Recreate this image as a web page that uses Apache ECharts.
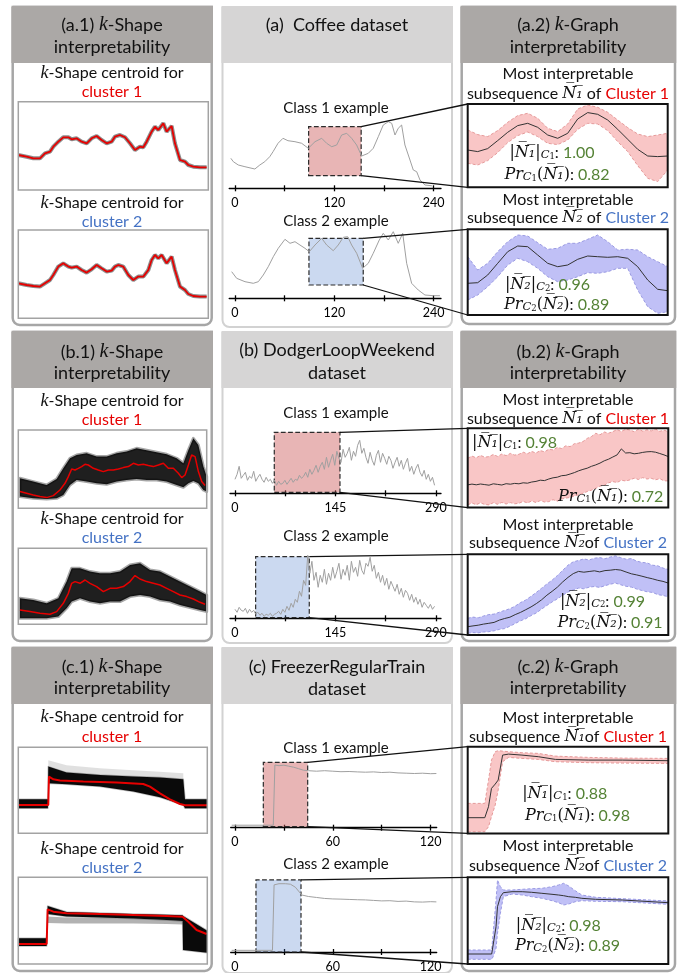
<!DOCTYPE html>
<html><head><meta charset="utf-8">
<script src="https://cdn.jsdelivr.net/npm/echarts@6/dist/echarts.min.js"></script>
<style>html,body{margin:0;padding:0;background:#fff}#c{width:680px;height:973px}</style>
</head><body><div id="c"></div>
<script>
// ---------------- DATA ----------------
// (a) Coffee dataset : class examples (x = time index, y = amplitude)
const coffeeX1 = [-5,-2,4,12,24,30,36,42,46,52,58,64,72.5,80.6,88.6,96.7,104.8,110.8,116.9,122.9,128.9,135,141,147,153.1,161.1,167.1,173.2,179.2,185.3,189.4,193.4,197.3,201.4,205.4,211.5,215.5,219.6,223.6,229.6,238];
const coffeeY1 = [30,26.6,23.3,21.6,19.3,23.3,26.6,31.6,36.6,45,50,47.6,46.6,45,40,46.6,50,45,41.6,43.3,53.3,55,50,43.3,32.3,35,40,51.6,63.3,66.6,65,53.3,60,63.3,43.3,28.3,18.3,16.6,8.3,3.3,2.5];
const coffeeX2 = [-4,2,12.1,22.1,28.2,34.2,40.2,46.3,52.3,60.4,66.5,72.5,78.5,84.6,89.8,96.7,104.8,110.8,118.8,124.8,130.9,136.2,141,147.1,154.3,161.1,167.1,174.4,179.2,185.3,191.3,197.3,202.7,207.5,213.5,221.5,229.6,239.6,247.7];
const coffeeY2 = [26.6,20,16.6,15,16.6,23.3,31.6,41.6,50,59,55,56.6,53.3,50,46.6,53.3,60,53.3,47.6,53.3,61,61.6,53.3,45,30,35,45,58.3,65,58.3,66.6,55,65,35,15,8.3,3.3,2.6,2.6];
const coffeeSub1 = {x:[89,152.5], y:[12.6,61.6]};
const coffeeSub2 = {x:[89.4,155], y:[13.3,60]};
// (a.1) k-Shape centroids
const coffeeCentX1 = [0,12.5,22.6,32.6,40.1,47.7,52.7,60.2,67.7,75.3,80.3,87.8,95.3,102.9,110.4,117.9,125.4,133,140.5,145.5,153,160.6,168.1,175.6,183.1,188.2,193.2,200.7,205.7,210.7,218.3,223.3,230.8,235.8,243.4,250.9,255.9,263.4,273.5,283.5];
const coffeeCentY1 = [35,33.3,31.7,31.7,36.7,38.3,43.3,48.3,52.7,52.7,50.7,51.7,48.3,46.7,51.7,54,50,46.7,48.3,53.3,55,52.7,46.7,40,43.3,42.7,48.3,58.3,63.3,60,66.7,58.3,64,46.7,30,28.3,25,23.3,22.7,22.7];
const coffeeCentX2 = [0,12.5,22.6,32.6,40.1,47.7,52.7,60.2,67.7,75.3,80.3,87.8,95.3,102.9,110.4,117.9,125.4,133,140.5,145.5,150.5,158,165.6,173.1,180.6,188.2,195.7,200.7,205.7,210.7,215.8,223.3,230.8,235.8,243.4,250.9,255.9,263.4,273.5,283.5];
const coffeeCentY2 = [35,33.3,32.3,31.7,35,38.3,43.3,51.7,55,51.7,50.7,51.7,48.3,45.7,49,53.3,50,46.7,47.7,51.7,53.3,51.7,43.3,38.3,41.7,41.7,48.3,58.3,63.3,60,63.3,55,61.7,48.3,31.7,28.3,24.3,22.3,21.7,21.7];
// (a.2) k-Graph subsequences
const coffeeNX = [0,3,6,9,12,15,18,21,24,27,30,33,36,39,42,45,48,51,54,57,60];
const coffeeN1Mid = [37.3,35.7,38.7,46.7,55,61.7,64,60,52.3,49,54,68.3,74.7,73,67.3,58,48,38,31.3,30.7,31.3];
const coffeeN1Hi  = [57.3,52.7,50.7,56.7,65,71.7,74,69,59,55.7,63.3,78.3,82.3,80,75,67.3,59.7,53.3,50.7,52.3,54];
const coffeeN1Lo  = [24,22.3,26.7,34.7,44.7,51.7,55.3,50.7,44,42.7,47.3,58,64,63.3,56.7,45.7,35.7,21.7,9,5.7,17.3];
const coffeeN2Mid = [31.7,32.3,40,51.7,63.3,69,68.3,60,51.7,48.3,50,55.7,59,58.3,57.7,58.3,56.7,48.3,35,25.7,24.3];
const coffeeN2Hi  = [58.3,45,51.7,63.3,73.3,80,79,72.3,65.7,66.7,71.7,71.7,75.7,80,73.3,65,65.7,65,58.3,53.3,48.3];
const coffeeN2Lo  = [15,20,28.3,38.3,50,56.7,53.3,46.7,38.3,33.3,35,38.3,42.3,41.7,43.3,46.7,46.7,25,8.3,1.7,3.3];

// (b) DodgerLoopWeekend : class examples sampled every 3 steps
const dodgerStep = 3;
const dodgerY1 = [14,19,27,15,18,21,13,17,15,22,12,16,19,14,11,16,12,14,10,13,8,12,9,10,13,9,12,15,11,14,13,18,15,17,21,16,24,19,23,28,21,27,31,24,36,26,33,39,28,42,35,31,44,36,40,46,33,42,37,48,53,40,45,36,30,41,33,28,38,43,31,40,35,29,37,33,25,31,36,27,33,24,30,35,22,27,19,25,29,21,17,23,14,19,12,16,8];
const dodgerY2 = [9,6,11,8,7,10,5,9,6,8,4,6,3,5,2,4,3,5,2,4,5,7,4,9,6,12,8,15,11,19,16,27,22,38,33,63,45,57,38,46,31,43,36,49,34,45,38,51,40,47,55,39,49,43,53,38,57,46,51,42,58,48,44,55,52,61,47,53,40,46,36,43,33,40,29,37,32,27,34,24,30,21,28,25,18,24,16,21,14,19,11,16,13,10,14,9,12];
const dodgerSub1 = {x:[56.7,151.5], y:[1,61]};
const dodgerSub2 = {x:[29.8,107.2], y:[0.6,61.6]};
// (b.1) centroids and member envelopes
const dodgerCentX1 = [2.5,12.7,22.9,33.1,43.3,53.5,63.7,71.4,76.5,81.6,86.7,91.8,96.8,101.9,107,114.7,122.3,130,137.6,145.3,152.9,160.6,168.2,175.9,183.5,191.2,198.8,206.4,214.1,221.7,229.4,237,244.7,249.8,254.9,260,265,270.2,275.3,280.4,285.5];
const dodgerCentY1 = [16.7,15,13.3,11.7,10.7,12.7,18.3,25,31.7,39.3,38.3,40,41.7,44,43.3,40,38.3,36.7,38.3,38.3,39.3,40.7,41.7,45,43.3,44,42.7,41.7,43.3,45,40,40,35,30.7,33.3,43.3,53.3,51.7,36.7,26.7,22.7];
const dodgerEnvX1 = [2.5,22.9,43.3,58.6,68.8,79,89.2,104.5,119.8,135.1,150.4,165.7,180.9,196.2,211.5,226.8,242.1,252.3,260,267.6,275.2,282.9,288];
const dodgerEnvHi1 = [30,26.7,23.3,29.3,40,50,53.3,55,51.7,51.7,55,56.7,60,58,56,54,50,45,58.3,70,63.3,41.7,31.7];
const dodgerEnvLo1 = [11.7,10,9.3,10,13.3,23.3,28.3,26.7,25,24,26.7,28.3,29.3,28.3,28.3,26.7,23.3,21,25,27.3,25,18.3,16.7];
const dodgerCentX2 = [2.5,17.8,33.1,48.4,58.6,68.8,76.5,81.6,86.7,94.3,102,109.6,119.8,130,140.2,150.4,160.6,170.8,178.4,186.1,196.2,206.4,216.6,226.8,237,247.2,257.4,267.6,277.8,285.4];
const dodgerCentY2 = [14.3,12.7,11,10,12.7,21,31,41,42.7,41,44.3,41,37.7,32.7,36,36,37.7,42.7,48.7,45.3,42.7,41,39.3,36,32.7,29.3,27.7,25.3,22,20];
const dodgerEnvX2 = [2.5,22.9,43.3,61.2,73.9,81.6,94.3,109.6,124.9,140.2,155.5,170.8,186.1,201.4,216.6,231.9,247.2,262.5,277.8,288];
const dodgerEnvHi2 = [26,24.3,21,26,42.7,56,56,52.7,51,51,52.7,59.3,61,54.3,52.7,47.7,42.7,37.7,32.7,29.3];
const dodgerEnvLo2 = [6,6,6,7.7,16,22.7,26,22.7,21,22.7,22.7,27.7,29.3,27.7,24.3,22.7,19.3,16.7,14.3,12.7];
// (b.2) k-Graph subsequences, sampled every 2 steps
const dodgerNStep = 2;
const dodgerN1Mid = [22.7,23.5,22.8,23.6,23.0,22.4,23.8,23.2,22.6,23.9,23.4,24.2,23.8,24.8,24.4,25.6,26.2,27.4,27.0,28.6,29.8,30.4,31.9,32.3,33.6,35.0,36.8,38.2,39.4,41.3,42.7,44.5,46.8,48.4,50.6,52.7,58.7,54.6,54.9,53.8,54.3,55.2,55.8,56.0,55.4,54.1,52.7,51.0];
const dodgerN1Hi  = [49.3,51.5,49.8,52.2,50.4,51.0,53.1,51.2,53.6,52.0,54.2,52.5,53.3,55.4,53.9,56.1,54.6,57.0,55.8,58.3,57.7,60.2,59.1,61.8,61.0,63.9,64.5,66.0,69.2,71.1,74.3,72.8,75.6,74.4,76.0,77.9,76.2,78.3,77.7,75.9,78.4,76.5,77.8,76.7,78.6,76.3,77.4,76.0];
const dodgerN1Lo  = [2.7,4.6,2.9,4.8,3.1,2.7,4.9,3.3,5.2,3.6,5.0,3.8,4.3,6.2,4.7,6.6,5.1,7.0,5.6,6.0,7.9,6.4,8.6,9.5,10.2,11.6,12.8,14.3,16.1,17.4,19.3,21.5,22.4,24.8,26.0,25.1,27.4,26.6,27.7,29.4,28.1,30.0,28.6,29.3,27.8,28.9,26.8,26.7];
const dodgerN2Mid = [8.3,9.1,9.8,10.9,11.7,12.6,14.9,16.5,17.8,20.4,22.6,25.3,28.1,31.4,35.2,39.8,43.7,47.9,53.1,57.6,61.4,63.6,62.8,63.5,64.2,63.1,64.4,64.8,65.5,64.9,63.0,61.2,60.1,58.8,57.4,56.2,54.7,53.6,51.9];
const dodgerN2Hi  = [16.7,17.9,17.2,19.0,20.4,20.9,22.8,24.6,26.3,28.9,32.4,35.0,38.7,42.6,46.8,51.0,54.9,59.5,64.7,69.8,73.2,74.5,76.1,75.0,76.8,77.4,76.2,78.0,79.1,77.3,75.8,76.4,73.9,72.6,72.1,69.8,69.2,66.9,65.6];
const dodgerN2Lo  = [1.7,2.4,2.1,3.0,3.3,4.2,5.6,6.4,8.8,11.5,14.2,16.3,19.4,22.1,25.9,29.6,33.1,36.2,39.8,43.0,45.1,46.9,46.2,47.8,48.5,47.6,49.3,50.8,51.9,50.2,48.7,47.9,46.0,44.5,43.2,42.6,40.4,39.5,38.3];

// (c) FreezerRegularTrain : class examples
const freezerX1 = [-2,23.5,24.5,27,30,33,36,39,42,45,50,55,60,65,70,75,80,85,90,95,100,105,110,115,120,123.5];
const freezerY1 = [2.5,2.5,62.7,62,62.5,61.5,60.5,59,57.5,57,56.5,57,56.5,56,56.2,55.8,55.5,55.8,55.2,55.5,54.8,54.5,54.2,54.5,54,54.2];
const freezerX2 = [-2,23,24,27,31,34,37,41,45,50,55,60,65,70,75,80,85,90,95,100,105,110,115,120,123.5];
const freezerY2 = [1.7,1.7,68.3,69.5,69.5,69,66,58,56.5,55.5,54.5,54,53.8,53.5,53.2,53,52.5,52,52.2,51.5,51.8,51,50.8,51.2,51];
const freezerSub1 = {x:[17.4,44.6], y:[1,65.4]};
const freezerSub2 = {x:[12.9,40.5], y:[0,73.3]};
// (c.1) centroids, member envelopes and faint outlier members
const freezerCentX1 = [0,47.6,48.7,55.6,66.1,103.2,156.1,198.4,209,224.9,240.7,256.6,264.6,300];
const freezerCentY1 = [28.3,28.3,56.7,54,52.7,51.7,50.7,49.3,46.7,40,34,29.3,28,28];
const freezerEnvX1 = [0,47,47.6,76.7,129.6,182.5,224.9,261.9,264.6,300];
const freezerEnvHi1 = [34,34,66.7,60.7,58.3,56.7,55.7,54,34,34];
const freezerEnvLo1 = [25,25,50,49,46.7,41.7,36,28.3,25,25];
const freezerFaintX1 = [47.6,76.7,129.6,182.5,224.9,261.9];
const freezerFaintHi1 = [73,68,65,63,61.5,60];
const freezerFaintLo1 = [66,60,58,56.5,55.5,54];
const freezerCentX2 = [0,45,46.6,55.6,76.7,129.6,182.5,235.4,260.8,269.8,283,298.9];
const freezerCentY2 = [20,20,54.7,52.3,50.7,50,49,48,47.3,42.3,34,30];
const freezerEnvX2 = [0,45,46.6,76.7,129.6,182.5,235.4,260.8,261.5,300];
const freezerEnvHi2 = [25.7,25.7,58,52,51,50,49.3,48.7,48,33.3];
const freezerEnvLo2 = [18,18,50,47.5,46.5,45.5,44,43,14,11.3];
const freezerFaintX2 = [46.6,76.7,129.6,182.5,235.4,260.8];
const freezerFaintHi2 = [47.5,46.5,46,45.5,44,43];
const freezerFaintLo2 = [41,40.5,40.5,40.5,40,39.5];
// (c.2) k-Graph subsequences
const freezerN1X   = [0,2.3,2.8,3.2,3.7,4.1,4.7,5.5,7.3,9.5,11.8,16.3,20.8,27];
const freezerN1Mid = [15.7,15.7,26.7,45,49.3,53.3,78.3,79.3,78.3,76.7,74,73.3,73.3,72.7];
const freezerN1Hi  = [30,30,53.3,73.3,81.7,82.7,82.3,81.7,80.7,80,77.3,76,75.3,75];
const freezerN1Lo  = [1.7,1.7,6.7,16.7,28.3,43.3,71.7,76,75,74,71.7,70.7,70.3,70];
const freezerN2X   = [0,3.3,3.5,3.9,4.1,4.5,4.9,6.1,7.5,8.8,10.2,11.6,12.5,13.2,13.9,14.8,15.7,17.6,21.3,27.6];
const freezerN2Mid = [10,10,19,37.3,57.3,67.3,71.3,72.3,72.3,71.7,70.7,69.7,69,68.3,67.3,66.7,65.7,64.7,64,61.3];
const freezerN2Hi  = [14,14,30.7,64,84,77.3,74,74,74.7,75.3,75.7,77.3,79,80.7,78,73.3,69,66.7,65.3,63];
const freezerN2Lo  = [4.7,4.7,7.3,15.7,30.7,50.7,67.3,70,69,67.3,65.7,63.3,61.3,59,60,62.3,63.3,62.7,62.3,59.7];

// scores
const scores = {
  a: {n1:'1.00', p1:'0.82', n2:'0.96', p2:'0.89'},
  b: {n1:'0.98', p1:'0.72', n2:'0.99', p2:'0.91'},
  c: {n1:'0.88', p1:'0.98', n2:'0.98', p2:'0.89'}
};
const midTicks = {a:[0,60,120,180,240], b:[0,72.5,145,217.5,290], c:[0,30,60,90,120]};
const midLabels = {a:[0,120,240], b:[0,145,290], c:[0,60,120]};

// ---------------- BUILD ----------------
const chart = echarts.init(document.getElementById('c'), null, {width:680, height:973, renderer:'canvas'});
const grids = [], xAxes = [], yAxes = [], series = [], gfx = [];
const RED = '#e60000', BLUE = '#4472c4', GREEN = '#548235';
const LINEGRAY = '#a0a0a0';

function addGrid(rect, xr, yr, mid) {
  const gi = grids.length;
  grids.push({left: rect[0], top: rect[1], width: rect[2], height: rect[3]});
  const xa = xAxes.length;
  if (mid) {
    xAxes.push({type:'value', gridIndex:gi, min:xr[0], max:xr[1], position:'bottom',
      axisLine:{show:true, onZero:false, lineStyle:{color:'#000', width:1.3}},
      axisTick:{show:true, length:3, customValues:mid.ticks, lineStyle:{color:'#000', width:1.3}},
      axisLabel:{show:true, customValues:mid.labels, color:'#000', fontSize:12.5, fontFamily:'Lato', margin:8},
      splitLine:{show:false}});
    xAxes.push({type:'value', gridIndex:gi, min:xr[0], max:xr[1], position:'bottom',
      axisLine:{show:false, onZero:false},
      axisTick:{show:true, inside:true, length:3, customValues:mid.ticks, lineStyle:{color:'#000', width:1.3}},
      axisLabel:{show:false}, splitLine:{show:false}});
  } else {
    xAxes.push({type:'value', gridIndex:gi, min:xr[0], max:xr[1], show:false});
  }
  const ya = yAxes.length;
  yAxes.push({type:'value', gridIndex:gi, min:yr[0], max:yr[1], show:false});
  return {gi, xa, ya, rect};
}
function line(ax, xs, ys, color, width, extra) {
  return Object.assign({type:'line', xAxisIndex:ax.xa, yAxisIndex:ax.ya, data:xs.map((x,i)=>[x, ys[i]]),
    symbol:'none', silent:true, z:3, lineStyle:{color, width}}, extra || {});
}
function band(ax, xs, lo, hi, fill, stroke, lw, z) {
  return {type:'custom', xAxisIndex:ax.xa, yAxisIndex:ax.ya, silent:true, z: z || 2,
    data: xs.map((x,i)=>[x, lo[i], hi[i]]),
    renderItem(params, api) {
      if (params.dataIndex !== 0) return null;
      const pts = [];
      for (let i = 0; i < xs.length; i++) pts.push(api.coord([xs[i], hi[i]]));
      for (let i = xs.length - 1; i >= 0; i--) pts.push(api.coord([xs[i], lo[i]]));
      return {type:'polygon', shape:{points:pts}, style:{fill, stroke: stroke || 'none', lineWidth: lw || 0, lineJoin:'round'}};
    }};
}
// highlighted subsequence box, drawn under the example line
function box(ax, sub, fill) {
  return {type:'line', xAxisIndex:ax.xa, yAxisIndex:ax.ya, data:[], silent:true, z:1,
    markArea:{silent:true, itemStyle:{color:fill, borderColor:'#2b2b2b', borderWidth:1.2, borderType:'dashed'},
      data:[[{coord:[sub.x[0], sub.y[0]]}, {coord:[sub.x[1], sub.y[1]]}]]}};
}
const idx = (arr, step) => arr.map((_, i) => i * step);

const RICH = {
  k:  {fontFamily:'Liberation Serif', fontStyle:'italic', fontSize:20, fill:'#111'},
  k2: {fontFamily:'Liberation Serif', fontStyle:'italic', fontSize:18, fill:'#111'},
  r:  {fill:RED}, b:{fill:BLUE}, g:{fill:GREEN},
  m:  {fontFamily:'DejaVu Serif', fontStyle:'italic', fontSize:16, fill:'#111'},
  u:  {fontFamily:'DejaVu Serif', fontStyle:'normal', fontSize:16, fill:'#111'},
  s:  {fontFamily:'DejaVu Serif', fontStyle:'italic', fontSize:11.5, fill:'#111', verticalAlign:'bottom', lineHeight:6},
  ss: {fontFamily:'DejaVu Serif', fontStyle:'normal', fontSize:8.5, fill:'#111', verticalAlign:'bottom', lineHeight:1}
};
function T(x, y, text, size, align) {
  gfx.push({type:'text', x, y, z:30, silent:true, style:{text, fill:'#111', font: size + 'px Lato',
    fontSize:size, fontFamily:'Lato', align: align || 'center', verticalAlign:'middle', rich: RICH}});
}
function panel(x, y, w, h, hdrH, hdrColor, border, bw) {
  gfx.push({type:'rect', z:0, silent:true, shape:{x, y, width:w, height:h, r:[0,0,7,7]}, style:{fill:'#fff', stroke:border, lineWidth:bw}});
  gfx.push({type:'rect', z:1, silent:true, shape:{x:x - bw/2, y:y - bw/2, width:w + bw, height:hdrH + bw/2}, style:{fill:hdrColor}});
}
function frame(ax, color, lw) {
  const r = ax.rect;
  gfx.push({type:'rect', z:25, silent:true, shape:{x:r[0], y:r[1], width:r[2], height:r[3]}, style:{fill:'none', stroke:color, lineWidth:lw}});
}

const HDR_DARK = '#aba8a6', HDR_LIGHT = '#d6d5d5', BORDER_DARK = '#a6a6a6', BORDER_LIGHT = '#d2d2d2';
const rows = [
  {key:'a', top:7,   bottom:[325,327,324]},
  {key:'b', top:332, bottom:[641,643,641]},
  {key:'c', top:648, bottom:[971,973,971]}
];
rows.forEach(rw => {
  panel(12.7, rw.top, 199, rw.bottom[0] - rw.top, 56, HDR_DARK, BORDER_DARK, 2.5);
  panel(222.5, rw.top, 229.5, rw.bottom[1] - rw.top, 56, HDR_LIGHT, BORDER_LIGHT, 2);
  panel(461.7, rw.top, 213.3, rw.bottom[2] - rw.top, 56, HDR_DARK, BORDER_DARK, 2.5);
});

const OVN1 = 'N\u0305\u2081\u0305', OVN2 = 'N\u0305\u2082\u0305';
function nText(i, v) { const N = i === 1 ? OVN1 : OVN2; return '{u||}{m|' + N + '}{u||}{s|C}{ss|' + i + '}: {g|' + v + '}'; }
function pText(i, v) { const N = i === 1 ? OVN1 : OVN2; return '{m|Pr}{s|C}{ss|' + i + '}{u|(}{m|' + N + '}{u|)}: {g|' + v + '}'; }

// ---------- Row a ----------
T(112, 25, '(a.1) {k|k}-Shape', 18); T(112, 46.7, 'interpretability', 18);
T(337, 25, '(a)  Coffee dataset', 18);
T(568, 25, '(a.2) {k|k}-Graph', 18); T(568, 46.7, 'interpretability', 18);
T(112, 73, '{k2|k}-Shape centroid for', 16); T(112, 92, '{r|cluster 1}', 16);
T(112, 203, '{k2|k}-Shape centroid for', 16); T(112, 222, '{b|cluster 2}', 16);
T(336, 108.3, 'Class 1 example', 15); T(336, 220.7, 'Class 2 example', 15);
T(568, 74, 'Most interpretable', 16); T(568, 94, 'subsequence {m|' + OVN1 + '} of {r|Cluster 1}', 16);
T(568, 200, 'Most interpretable', 16); T(568, 218, 'subsequence {m|' + OVN2 + '} of {b|Cluster 2}', 16);
T(552, 153, nText(1, scores.a.n1), 16); T(557, 175, pText(1, scores.a.p1), 16);
T(547.5, 285, nText(2, scores.a.n2), 16); T(556.7, 305, pText(2, scores.a.p2), 16);

const gA11 = addGrid([18.3,101.7,190,88.3], [0,286], [0,88.3]);
const gA12 = addGrid([18.3,230,190,88.3], [0,286], [0,88.3]);
const gAm1 = addGrid([229.2,118.3,211.8,70], [-7,249], [0,70], {ticks:midTicks.a, labels:midLabels.a});
const gAm2 = addGrid([229.2,228.3,211.8,70], [-7,249], [0,70], {ticks:midTicks.a, labels:midLabels.a});
const gA21 = addGrid([467.7,104,200,83.3], [0,60], [0,83.3]);
const gA22 = addGrid([467.7,229.3,200,85.7], [0,60], [0,85.7]);

// ---------- Row b ----------
T(112, 351.7, '(b.1) {k|k}-Shape', 18); T(112, 373.3, 'interpretability', 18);
T(337, 350, '(b) DodgerLoopWeekend', 18); T(337, 373.3, 'dataset', 18);
T(568, 351.7, '(b.2) {k|k}-Graph', 18); T(568, 373.3, 'interpretability', 18);
T(112, 401, '{k2|k}-Shape centroid for', 16); T(112, 420, '{r|cluster 1}', 16);
T(112, 519.3, '{k2|k}-Shape centroid for', 16); T(112, 538.3, '{b|cluster 2}', 16);
T(336, 413.3, 'Class 1 example', 15); T(336, 535.7, 'Class 2 example', 15);
T(568, 400, 'Most interpretable', 16); T(568, 419, 'subsequence {m|' + OVN1 + '} of {r|Cluster 1}', 16);
T(568, 525, 'Most interpretable', 16); T(568, 543.3, 'subsequence {m|' + OVN2 + '}of {b|Cluster 2}', 16);
T(472, 443.3, nText(1, scores.b.n1), 16, 'left'); T(663.3, 496.7, pText(1, scores.b.p1), 16, 'right');
T(602.5, 601.7, nText(2, scores.b.n2), 16); T(610, 623.3, pText(2, scores.b.p2), 16);

const gB11 = addGrid([18.3,430,188.4,78.3], [0,288], [0,78.3]);
const gB12 = addGrid([18.3,548.3,188.4,76], [0,288], [0,76]);
const gBm1 = addGrid([230,428.3,211,65], [-7.2,297.3], [0,65], {ticks:midTicks.b, labels:midLabels.b});
const gBm2 = addGrid([230,553.3,211,65], [-7.2,297.3], [0,65], {ticks:midTicks.b, labels:midLabels.b});
const gB21 = addGrid([467.7,428.3,200.6,79.3], [0,94], [0,79.3]);
const gB22 = addGrid([467.7,554.3,200.6,80.7], [0,76], [0,80.7]);

// ---------- Row c ----------
T(112, 666.7, '(c.1) {k|k}-Shape', 18); T(112, 688.3, 'interpretability', 18);
T(337, 666.7, '(c) FreezerRegularTrain', 18); T(337, 689.3, 'dataset', 18);
T(568, 666.7, '(c.2) {k|k}-Graph', 18); T(568, 688.3, 'interpretability', 18);
T(112, 717.3, '{k2|k}-Shape centroid for', 16); T(112, 736.7, '{r|cluster 1}', 16);
T(112, 849.3, '{k2|k}-Shape centroid for', 16); T(112, 868.3, '{b|cluster 2}', 16);
T(336, 748.3, 'Class 1 example', 15); T(336, 864, 'Class 2 example', 15);
T(568, 718.3, 'Most interpretable', 16); T(568, 737.3, 'subsequence {m|' + OVN1 + '}of {r|Cluster 1}', 16);
T(568, 846, 'Most interpretable', 16); T(568, 866, 'subsequence {m|' + OVN2 + '}of {b|Cluster 2}', 16);
T(564.7, 794, nText(1, scores.c.n1), 16); T(577.5, 815.7, pText(1, scores.c.p1), 16);
T(558.3, 926, nText(2, scores.c.n2), 16); T(567.5, 946, pText(2, scores.c.p2), 16);

const gC11 = addGrid([18.3,747.3,189,86], [0,300], [0,86]);
const gC12 = addGrid([18.3,877.3,189,86.7], [0,300], [0,86.7]);
const gCm1 = addGrid([230.7,757.7,206,70], [-2.6,123.7], [0,70], {ticks:midTicks.c, labels:midLabels.c});
const gCm2 = addGrid([230.7,878.3,206,75], [-2.6,123.7], [0,75], {ticks:midTicks.c, labels:midLabels.c});
const gC21 = addGrid([467.7,746.7,200.6,86.7], [0,27], [0,86.7]);
const gC22 = addGrid([467.7,877.3,200.6,86.7], [0,27.6], [0,86.7]);

// ---------- series ----------
const RED_BOX = 'rgba(205,90,90,0.45)', BLUE_BOX = 'rgba(70,120,200,0.28)';
const PINK = '#f9c6c6', PINK_EDGE = '#e59a9a', LAV = '#c0c0f6', LAV_EDGE = '#9a9ae2', MID = '#333';
const HALO = 'rgba(30,30,30,0.5)';

// a.1
series.push(line(gA11, coffeeCentX1, coffeeCentY1, HALO, 4));
series.push(line(gA11, coffeeCentX1, coffeeCentY1, RED, 1.8, {z:4}));
series.push(line(gA12, coffeeCentX2, coffeeCentY2, HALO, 4));
series.push(line(gA12, coffeeCentX2, coffeeCentY2, RED, 1.8, {z:4}));
// a middle
series.push(box(gAm1, coffeeSub1, RED_BOX));
series.push(line(gAm1, coffeeX1, coffeeY1, LINEGRAY, 1));
series.push(box(gAm2, coffeeSub2, BLUE_BOX));
series.push(line(gAm2, coffeeX2, coffeeY2, LINEGRAY, 1));
// a.2
function gBand(ax, xs, lo, hi, mid, fill, edge) {
  series.push(band(ax, xs, lo, hi, fill));
  series.push(line(ax, xs, hi, edge, 1, {lineStyle:{color:edge, width:1, type:[3,2]}}));
  series.push(line(ax, xs, lo, edge, 1, {lineStyle:{color:edge, width:1, type:[3,2]}}));
  series.push(line(ax, xs, mid, MID, 1));
}
gBand(gA21, coffeeNX, coffeeN1Lo, coffeeN1Hi, coffeeN1Mid, PINK, PINK_EDGE);
gBand(gA22, coffeeNX, coffeeN2Lo, coffeeN2Hi, coffeeN2Mid, LAV, LAV_EDGE);

// b.1
const DARK = 'rgba(0,0,0,0.88)', FUZZ = 'rgba(0,0,0,0.35)';
series.push(band(gB11, dodgerEnvX1, dodgerEnvLo1, dodgerEnvHi1, DARK, FUZZ, 3));
series.push(line(gB11, dodgerCentX1, dodgerCentY1, RED, 1.5, {z:4}));
series.push(band(gB12, dodgerEnvX2, dodgerEnvLo2, dodgerEnvHi2, DARK, FUZZ, 3));
series.push(line(gB12, dodgerCentX2, dodgerCentY2, RED, 1.5, {z:4}));
// b middle
series.push(box(gBm1, dodgerSub1, RED_BOX));
series.push(line(gBm1, idx(dodgerY1, dodgerStep), dodgerY1, LINEGRAY, 1));
series.push(box(gBm2, dodgerSub2, BLUE_BOX));
series.push(line(gBm2, idx(dodgerY2, dodgerStep), dodgerY2, LINEGRAY, 1));
// b.2
gBand(gB21, idx(dodgerN1Mid, dodgerNStep), dodgerN1Lo, dodgerN1Hi, dodgerN1Mid, PINK, PINK_EDGE);
gBand(gB22, idx(dodgerN2Mid, dodgerNStep), dodgerN2Lo, dodgerN2Hi, dodgerN2Mid, LAV, LAV_EDGE);

// c.1
const FAINT = 'rgba(0,0,0,0.12)';
series.push(band(gC11, freezerFaintX1, freezerFaintLo1, freezerFaintHi1, FAINT));
series.push(band(gC11, freezerEnvX1, freezerEnvLo1, freezerEnvHi1, '#0a0a0a', 'rgba(0,0,0,0.25)', 1.5));
series.push(line(gC11, freezerCentX1, freezerCentY1, RED, 2, {z:4}));
series.push(band(gC12, freezerFaintX2, freezerFaintLo2, freezerFaintHi2, 'rgba(0,0,0,0.3)'));
series.push(band(gC12, freezerEnvX2, freezerEnvLo2, freezerEnvHi2, '#0a0a0a', 'rgba(0,0,0,0.25)', 1.5));
series.push(line(gC12, freezerCentX2, freezerCentY2, RED, 2, {z:4}));
// c middle
series.push(box(gCm1, freezerSub1, RED_BOX));
series.push(line(gCm1, freezerX1, freezerY1, LINEGRAY, 1));
series.push(box(gCm2, freezerSub2, BLUE_BOX));
series.push(line(gCm2, freezerX2, freezerY2, LINEGRAY, 1));
// c.2
gBand(gC21, freezerN1X, freezerN1Lo, freezerN1Hi, freezerN1Mid, PINK, PINK_EDGE);
gBand(gC22, freezerN2X, freezerN2Lo, freezerN2Hi, freezerN2Mid, LAV, LAV_EDGE);

// frames
[gA11, gA12, gB11, gB12, gC11, gC12].forEach(g => frame(g, '#a3a3a3', 1.5));
[gA21, gA22, gB21, gB22, gC21, gC22].forEach(g => frame(g, '#111', 2));

chart.setOption({animation:false, grid:grids, xAxis:xAxes, yAxis:yAxes, series, graphic:{elements:gfx}});

// connectors from highlighted subsequences to the k-Graph panels
const links = [[gAm1, coffeeSub1, gA21], [gAm2, coffeeSub2, gA22], [gBm1, dodgerSub1, gB21], [gBm2, dodgerSub2, gB22], [gCm1, freezerSub1, gC21], [gCm2, freezerSub2, gC22]];
const extra = [];
links.forEach(([fa, sub, ta]) => {
  const f = {xAxisIndex: fa.xa, yAxisIndex: fa.ya};
  const p1 = chart.convertToPixel(f, [sub.x[1], sub.y[1]]);
  const p2 = chart.convertToPixel(f, [sub.x[1], sub.y[0]]);
  const r = ta.rect;
  extra.push({type:'line', z:24, silent:true, shape:{x1:p1[0], y1:p1[1], x2:r[0], y2:r[1]}, style:{stroke:'#111', lineWidth:1.3}});
  extra.push({type:'line', z:24, silent:true, shape:{x1:p2[0], y1:p2[1], x2:r[0], y2:r[1] + r[3]}, style:{stroke:'#111', lineWidth:1.3}});
});
chart.setOption({graphic:{elements: gfx.concat(extra)}});
</script></body></html>
